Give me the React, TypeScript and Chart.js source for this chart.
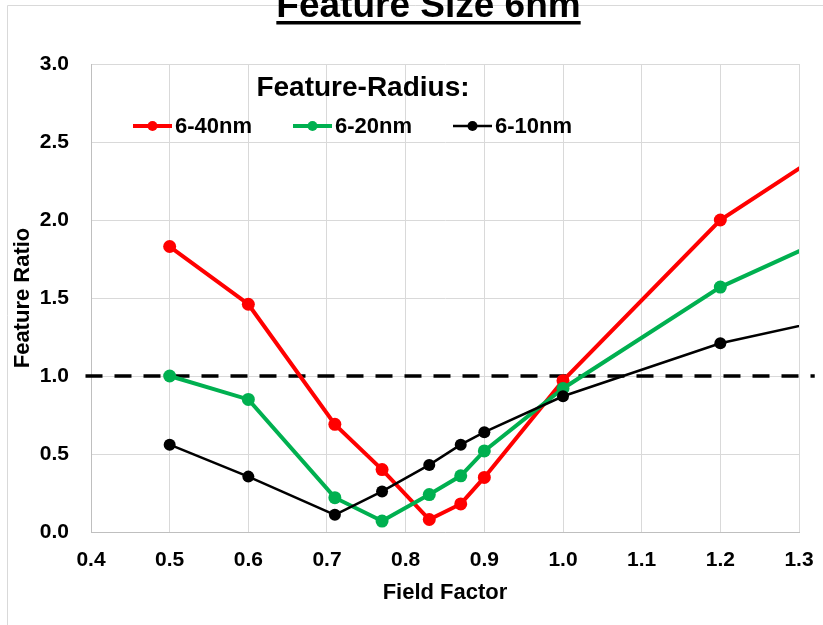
import React, { useEffect, useRef } from "react";
import { Chart, registerables } from "chart.js";

Chart.register(...registerables);

// ---- data ----
const chartTitle = "Feature Size 6nm";
const legendTitle = "Feature-Radius:";
const xAxisTitle = "Field Factor";
const yAxisTitle = "Feature Ratio";
const seriesLabels = ["6-40nm", "6-20nm", "6-10nm"];

const fieldFactor = [0.5, 0.6, 0.71, 0.77, 0.83, 0.87, 0.9, 1.0, 1.2, 1.4];
const ratio40 = [1.83, 1.46, 0.69, 0.4, 0.08, 0.18, 0.35, 0.97, 2.0, 2.66];
const ratio20 = [1.0, 0.85, 0.22, 0.07, 0.24, 0.36, 0.52, 0.92, 1.57, 2.03];
const ratio10 = [0.56, 0.355, 0.11, 0.26, 0.43, 0.56, 0.64, 0.87, 1.21, 1.43];

const referenceX = [0.393, 1.32];
const referenceY = [1.0, 1.0];

const xMin = 0.4;
const xMax = 1.3;
const xStep = 0.1;
const yMin = 0;
const yMax = 3.0;
const yStep = 0.5;

const FONT = "'Liberation Sans', Arial, Helvetica, sans-serif";

const toPoints = (xs: number[], ys: number[]) => xs.map((x, i) => ({ x, y: ys[i] }));

const borderPlugin = {
  id: "outerBorder",
  beforeDraw(chart: any) {
    const { ctx, width, height } = chart;
    ctx.save();
    ctx.strokeStyle = "#d9d9d9";
    ctx.lineWidth = 1;
    ctx.beginPath();
    ctx.moveTo(7.5, height);
    ctx.lineTo(7.5, 5.5);
    ctx.lineTo(width, 5.5);
    ctx.stroke();
    ctx.restore();
  },
};

const titlePlugin = {
  id: "underlinedTitle",
  afterDraw(chart: any) {
    const ctx = chart.ctx;
    ctx.save();
    ctx.font = `bold 37px ${FONT}`;
    ctx.fillStyle = "#000";
    ctx.textAlign = "center";
    ctx.textBaseline = "alphabetic";
    const cx = 428.5;
    ctx.fillText(chartTitle, cx, 17);
    const w = ctx.measureText(chartTitle).width;
    ctx.fillRect(cx - w / 2, 21, w, 3.5);
    ctx.restore();
  },
};

const legendPlugin = {
  id: "inlineLegend",
  afterDraw(chart: any) {
    const { ctx, chartArea } = chart;
    const left = chartArea.left;
    ctx.save();
    ctx.fillStyle = "#000";
    ctx.font = `bold 28px ${FONT}`;
    ctx.textAlign = "center";
    ctx.textBaseline = "middle";
    ctx.fillText(legendTitle, left + 272, chartArea.top + 24);
    const rowY = chartArea.top + 62;
    chart.data.datasets.forEach((ds: any, i: number) => {
      if (!ds.inLegend) return;
      const x0 = left + 42 + i * 160;
      ctx.strokeStyle = ds.borderColor;
      ctx.lineWidth = ds.borderWidth;
      ctx.beginPath();
      ctx.moveTo(x0, rowY);
      ctx.lineTo(x0 + 39, rowY);
      ctx.stroke();
      ctx.fillStyle = ds.pointBackgroundColor;
      ctx.beginPath();
      ctx.arc(x0 + 19.5, rowY, 5, 0, Math.PI * 2);
      ctx.fill();
      ctx.fillStyle = "#000";
      ctx.font = `bold 22px ${FONT}`;
      ctx.textAlign = "left";
      ctx.fillText(ds.label, x0 + 42, rowY + 1);
    });
    ctx.restore();
  },
};

export default function App() {
  const canvasRef = useRef<HTMLCanvasElement | null>(null);

  useEffect(() => {
    document.body.style.margin = "0";
    const canvas = canvasRef.current;
    if (!canvas) return;

    const tickFont = { family: FONT, size: 21, weight: "bold" as const };
    const titleFont = { family: FONT, size: 22, weight: "bold" as const };

    const chart = new Chart(canvas, {
      type: "line",
      data: {
        datasets: [
          {
            label: seriesLabels[0],
            data: toPoints(fieldFactor, ratio40),
            borderColor: "#ff0000",
            backgroundColor: "#ff0000",
            pointBackgroundColor: "#ff0000",
            pointBorderColor: "#ff0000",
            borderWidth: 4,
            pointRadius: 6.5,
            pointBorderWidth: 0,
            order: 3,
            inLegend: true,
          } as any,
          {
            label: seriesLabels[1],
            data: toPoints(fieldFactor, ratio20),
            borderColor: "#00b050",
            backgroundColor: "#00b050",
            pointBackgroundColor: "#00b050",
            pointBorderColor: "#00b050",
            borderWidth: 4,
            pointRadius: 6.5,
            pointBorderWidth: 0,
            order: 2,
            inLegend: true,
          } as any,
          {
            label: seriesLabels[2],
            data: toPoints(fieldFactor, ratio10),
            borderColor: "#000000",
            backgroundColor: "#000000",
            pointBackgroundColor: "#000000",
            pointBorderColor: "#000000",
            borderWidth: 2.5,
            pointRadius: 6,
            pointBorderWidth: 0,
            order: 1,
            inLegend: true,
          } as any,
          {
            label: "reference",
            data: toPoints(referenceX, referenceY),
            borderColor: "#000000",
            borderWidth: 3.5,
            borderDash: [17, 12],
            pointRadius: 0,
            clip: false,
            order: 4,
            inLegend: false,
          } as any,
        ],
      },
      options: {
        responsive: false,
        animation: false,
        events: [],
        layout: { padding: { top: 64, right: 24, bottom: 0, left: 0 } },
        plugins: {
          legend: { display: false },
          title: { display: false },
          tooltip: { enabled: false },
        },
        scales: {
          x: {
            type: "linear",
            min: xMin,
            max: xMax,
            ticks: {
              stepSize: xStep,
              autoSkip: false,
              maxRotation: 0,
              padding: 16,
              color: "#000",
              font: tickFont,
              callback: (v: any) => Number(v).toFixed(1),
            },
            grid: { color: "#d9d9d9", drawTicks: false, lineWidth: 1 },
            border: { color: "#bfbfbf", width: 1 },
            title: {
              display: true,
              text: xAxisTitle,
              color: "#000",
              font: titleFont,
              padding: { top: 0, bottom: 19 },
            },
            afterFit: (s: any) => {
              s.height = 93;
              s.paddingLeft = 0;
              s.paddingRight = 0;
            },
          },
          y: {
            type: "linear",
            min: yMin,
            max: yMax,
            ticks: {
              stepSize: yStep,
              padding: 22,
              color: "#000",
              font: tickFont,
              callback: (v: any) => Number(v).toFixed(1),
            },
            grid: { color: "#d9d9d9", drawTicks: false, lineWidth: 1 },
            border: { color: "#bfbfbf", width: 1 },
            title: {
              display: true,
              text: yAxisTitle,
              color: "#000",
              font: titleFont,
              padding: { top: 10, bottom: 0 },
            },
            afterFit: (s: any) => {
              s.width = 91;
              s.paddingTop = 0;
              s.paddingBottom = 0;
            },
          },
        },
      } as any,
      plugins: [borderPlugin, titlePlugin, legendPlugin],
    });

    return () => chart.destroy();
  }, []);

  return (
    <div style={{ width: 823, height: 625, position: "relative" }}>
      <canvas ref={canvasRef} width={823} height={625} style={{ display: "block", width: 823, height: 625 }} />
    </div>
  );
}
